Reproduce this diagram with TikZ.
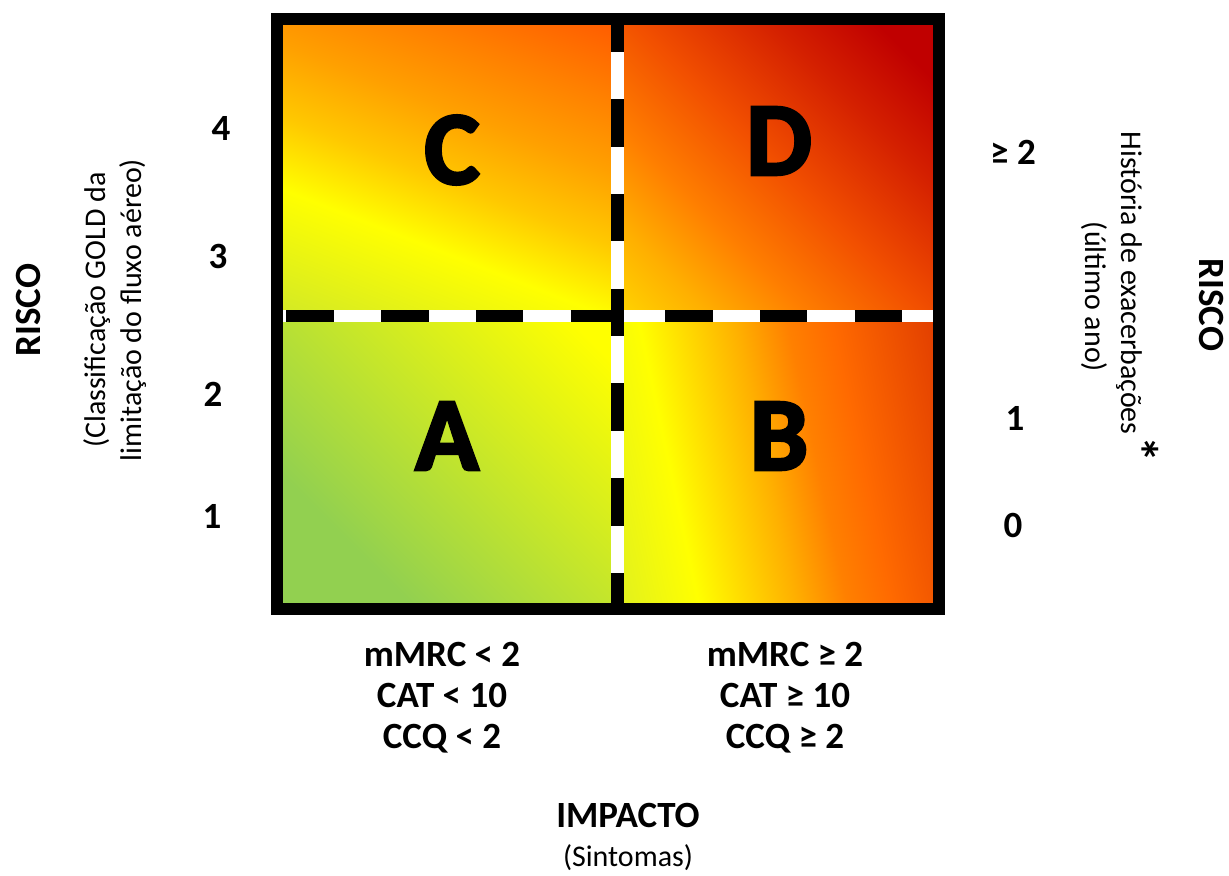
\documentclass[tikz,border=0pt]{standalone}
\usepackage{fontspec}
\setmainfont{Carlito}
\newfontfamily\quadfont{Carlito}[BoldFeatures={FakeBold=3}]
\usetikzlibrary{positioning}

% colours of the four quadrants
\definecolor{leafgreen}{HTML}{92D050}
\definecolor{limegreen}{HTML}{C8E430}
\definecolor{limeyellow}{HTML}{D0E828}
\definecolor{paleyellow}{HTML}{E0F020}
\definecolor{pureyellow}{HTML}{FFFF00}
\definecolor{sunyellow}{HTML}{FFD800}
\definecolor{goldyellow}{HTML}{FFC800}
\definecolor{amberyellow}{HTML}{FFB000}
\definecolor{amberorange}{HTML}{FFA000}
\definecolor{lightorange}{HTML}{FF8000}
\definecolor{midorange}{HTML}{FF6A00}
\definecolor{deeporange}{HTML}{FF5800}
\definecolor{flameorange}{HTML}{F25000}
\definecolor{flamered}{HTML}{E03C00}
\definecolor{brickred}{HTML}{D42000}
\definecolor{darkred}{HTML}{C00000}

\pgfdeclarehorizontalshading{shadeA}{100bp}{color(0bp)=(leafgreen); color(30bp)=(leafgreen); color(80bp)=(pureyellow); color(100bp)=(pureyellow)}
\pgfdeclarehorizontalshading{shadeB}{100bp}{color(0bp)=(limeyellow); color(20bp)=(paleyellow); color(33bp)=(pureyellow); color(48bp)=(amberyellow); color(56bp)=(lightorange); color(63bp)=(midorange); color(80bp)=(flamered); color(100bp)=(flamered)}
\pgfdeclarehorizontalshading{shadeC}{100bp}{color(0bp)=(limegreen); color(17bp)=(limeyellow); color(37bp)=(pureyellow); color(48bp)=(goldyellow); color(59bp)=(amberorange); color(70bp)=(lightorange); color(83bp)=(deeporange); color(100bp)=(deeporange)}
\pgfdeclarehorizontalshading{shadeD}{100bp}{color(0bp)=(sunyellow); color(14bp)=(sunyellow); color(25bp)=(amberyellow); color(36bp)=(lightorange); color(50bp)=(flameorange); color(66bp)=(brickred); color(78bp)=(darkred); color(100bp)=(darkred)}

\begin{document}
\begin{tikzpicture}[x=0.5pt, y=-0.5pt, node distance=21.5pt,
    quad/.style={font=\quadfont\bfseries\fontsize{52pt}{52pt}\selectfont, inner sep=0pt},
    num/.style={font=\bfseries\fontsize{18.5pt}{20.5pt}\selectfont, inner sep=0pt},
    crit/.style={font=\bfseries\fontsize{18.5pt}{20.5pt}\selectfont, align=center, inner sep=0pt},
    note/.style={font=\fontsize{15pt}{18pt}\selectfont, align=center, inner sep=0pt},
    frame/.style={line width=6pt},
    gapv/.style={white, line width=6.5pt},
    gaph/.style={white, line width=6pt},
    dashv/.style={line width=6.5pt, dash pattern=on 23.7pt off 23.65pt, dash phase=10.2pt},
    dashh/.style={line width=6pt, dash pattern=on 23.7pt off 23.65pt, dash phase=45.65pt}]

\fill[white] (0,0) rectangle (1229,876);

\coordinate (nw) at (277,19);
\coordinate (se) at (939,609);
\coordinate (mid) at (617.5,316);
\coordinate (vtop) at (617.5,25);
\coordinate (vbot) at (617.5,603);
\coordinate (hleft) at (283,316);
\coordinate (hright) at (933,316);

% quadrants
\shade[shading=shadeC, shading angle=68.7] (nw) rectangle (mid);
\shade[shading=shadeD, shading angle=45] (mid |- nw) rectangle (se |- mid);
\shade[shading=shadeA, shading angle=45] (nw |- mid) rectangle (mid |- se);
\shade[shading=shadeB, shading angle=12] (mid) rectangle (se);

% dividers
\draw[gaph] (hleft) -- (hright);
\draw[dashh] (hleft) -- (hright);
\draw[gapv] (vtop) -- (vbot);
\draw[dashv] (vtop) -- (vbot);
\draw[frame] (nw) rectangle (se);

\node[quad] (qc) at (452,150) {C};
\node[quad] (qd) at (779,141) {D};
\node[quad] (qa) at (447,436) {A};
\node[quad] (qb) at (779,436) {B};

% left scale
\node[num] (gold4) at (221,128) {4};
\node[num] (gold3) at (218,256) {3};
\node[num] (gold2) at (213,394) {2};
\node[num] (gold1) at (212,516) {1};

% right scale
\node[num] (exac2) at (1013,152) {≥ 2};
\node[num] (exac1) at (1015,418) {1};
\node[num] (exac0) at (1013,525) {0};

\node[crit] (lowsym) at (442,698) {mMRC < 2\\CAT < 10\\CCQ < 2};
\node[crit] (highsym) at (785,698) {mMRC ≥ 2\\CAT ≥ 10\\CCQ ≥ 2};

\node[crit] (impact) at (628,815) {IMPACTO};
\node[note, below of=impact] (sympt) {(Sintomas)};

\node[crit, rotate=90] (riskl) at (28,310) {RISCO};
\node[note, rotate=90] (goldtxt) at (115,310) {(Classificação GOLD da\\limitação do fluxo aéreo)};

\node[crit, rotate=-90] (riskr) at (1211,305) {RISCO};
\node[note, rotate=-90] (exactxt) at (1112,297) {História de exacerbações\smash{\bfseries\fontsize{26pt}{26pt}\selectfont\kern1pt*}\\(último ano)};

\end{tikzpicture}
\end{document}
